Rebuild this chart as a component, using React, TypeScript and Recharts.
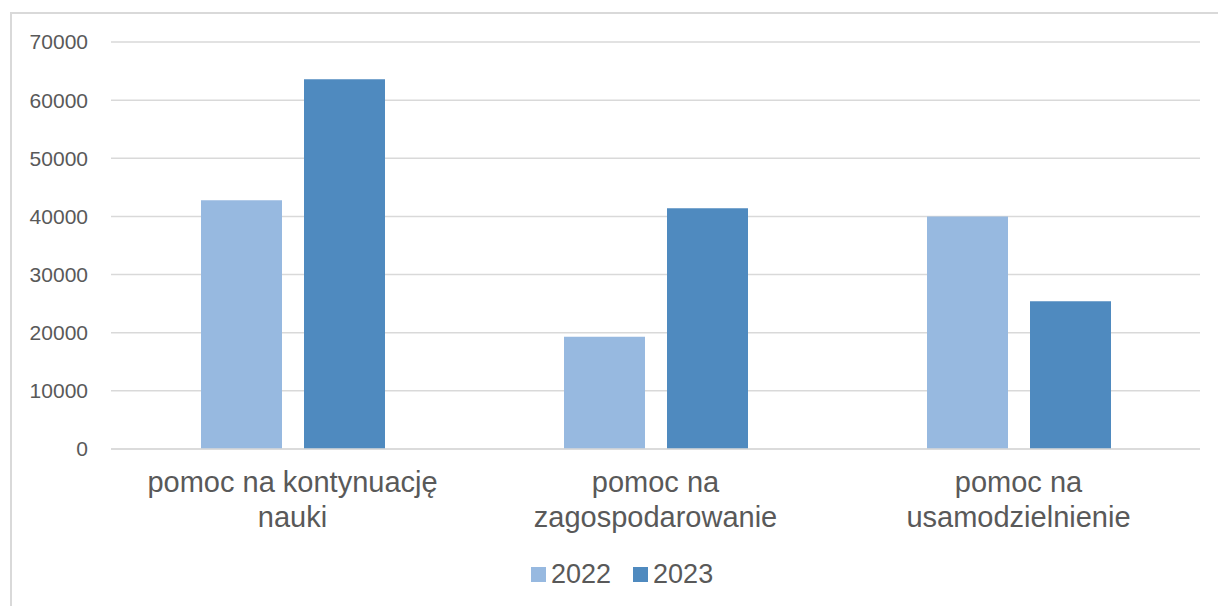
import React from "react";
import { BarChart, Bar, XAxis, YAxis, CartesianGrid, Legend } from "recharts";

const categories = [
  "pomoc na kontynuację nauki",
  "pomoc na zagospodarowanie",
  "pomoc na usamodzielnienie",
];
const categoryLines = [
  ["pomoc na kontynuację", "nauki"],
  ["pomoc na", "zagospodarowanie"],
  ["pomoc na", "usamodzielnienie"],
];
const values2022 = [42800, 19300, 40000];
const values2023 = [63600, 41400, 25400];
const yTicks = [0, 10000, 20000, 30000, 40000, 50000, 60000, 70000];

const seriesNames = ["2022", "2023"];
const seriesColors = ["#97B9E0", "#4F8ABF"];

const data = categories.map((name, i) => ({
  name,
  y2022: values2022[i],
  y2023: values2023[i],
}));

const FONT = "'Liberation Sans', Arial, sans-serif";
const TEXT = "#595959";

const CategoryTick = ({ x, y, payload }: any) => {
  const lines = categoryLines[payload.index] ?? [payload.value];
  return (
    <g transform={`translate(${x},${y})`}>
      {lines.map((line: string, i: number) => (
        <text
          key={i}
          x={0}
          y={35 + i * 35}
          textAnchor="middle"
          fill={TEXT}
          fontSize={29}
          fontFamily={FONT}
        >
          {line}
        </text>
      ))}
    </g>
  );
};

const LegendContent = () => (
  <div
    style={{
      display: "flex",
      alignItems: "center",
      height: 30,
      fontFamily: FONT,
      fontSize: 27,
      lineHeight: "30px",
      color: TEXT,
    }}
  >
    {seriesNames.map((s, i) => (
      <div key={s} style={{ display: "flex", alignItems: "center", marginRight: 22 }}>
        <span
          style={{
            width: 15,
            height: 15,
            background: seriesColors[i],
            marginRight: 5,
            display: "inline-block",
          }}
        />
        <span>{s}</span>
      </div>
    ))}
  </div>
);

export default function App() {
  return (
    <div
      style={{
        position: "absolute",
        left: 0,
        top: 0,
        width: 1218,
        height: 606,
        overflow: "hidden",
        background: "#fff",
      }}
    >
      <div
        style={{
          position: "absolute",
          left: 10,
          top: 12,
          width: 1240,
          height: 640,
          border: "2px solid #d9d9d9",
          boxSizing: "border-box",
        }}
      />
      <BarChart
        width={1218}
        height={606}
        data={data}
        margin={{ top: 42, right: 18, left: 0, bottom: 27 }}
        barGap={22}
        barSize={81}
      >
        <CartesianGrid vertical={false} stroke="#d9d9d9" strokeWidth={1.5} />
        <XAxis
          dataKey="name"
          tick={<CategoryTick />}
          tickLine={false}
          axisLine={{ stroke: "#d9d9d9", strokeWidth: 1.5 }}
          height={100}
          interval={0}
        />
        <YAxis
          width={111}
          domain={[0, 70000]}
          ticks={yTicks}
          tickLine={false}
          axisLine={false}
          tickSize={0}
          tickMargin={23}
          tick={{ fill: TEXT, fontSize: 21, fontFamily: FONT }}
        />
        <Legend
          content={<LegendContent />}
          wrapperStyle={{ position: "absolute", left: 531, top: 559, width: "auto", height: 30 }}
        />
        <Bar dataKey="y2022" name={seriesNames[0]} fill={seriesColors[0]} isAnimationActive={false} />
        <Bar dataKey="y2023" name={seriesNames[1]} fill={seriesColors[1]} isAnimationActive={false} />
      </BarChart>
    </div>
  );
}
